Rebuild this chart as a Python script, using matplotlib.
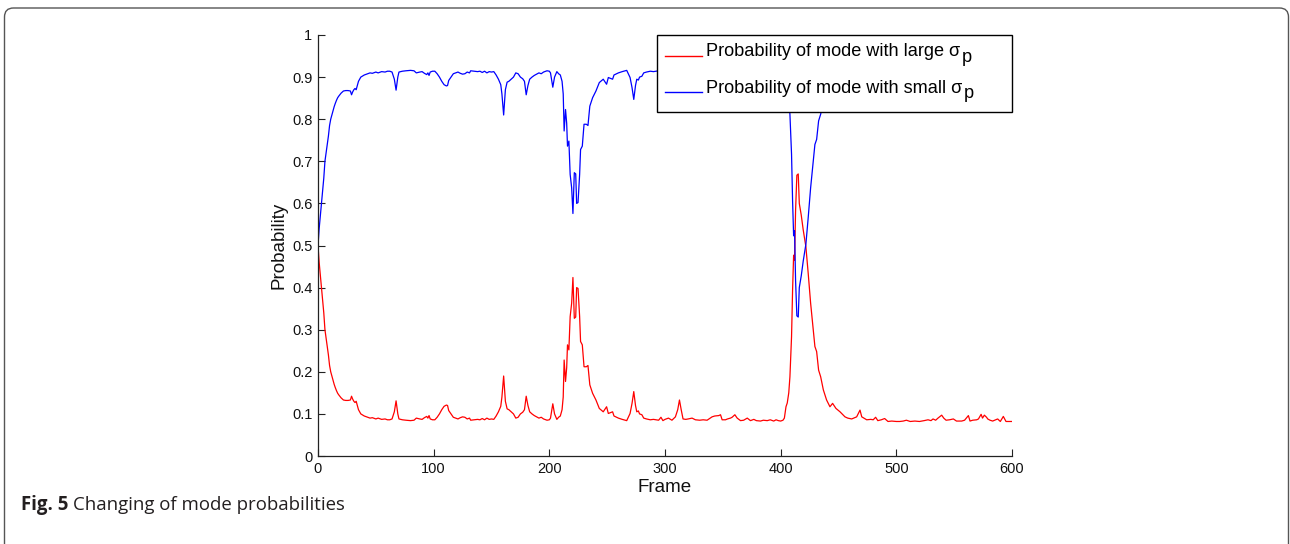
import matplotlib
matplotlib.use("Agg")
import numpy as np
import matplotlib.pyplot as plt
from matplotlib.patches import FancyBboxPatch, Rectangle
from matplotlib.transforms import IdentityTransform
from matplotlib.font_manager import FontProperties

# ---------------- data ----------------
frames = [
    0, 1, 2, 3, 4, 5, 6, 7, 8, 9,
    10, 11, 12, 13, 14, 15, 16, 17, 18, 20,
    22, 24, 26, 28, 29, 30, 31, 32, 33, 34,
    35, 37, 40, 43, 45,
    47, 50, 52, 55, 58, 60, 62, 64, 66, 67.5,
    69, 70, 73, 76, 80, 83, 85, 88, 90, 92,
    94, 95, 96, 97, 99, 101, 103, 105, 107, 109,
    111, 112, 113, 115, 117, 119, 121, 123, 125, 127,
    129, 131, 132, 135, 138, 140, 142, 144, 146, 148,
    150, 152, 154, 156, 158, 159, 160.5, 162, 163.5, 165,
    167, 169, 171, 173, 175, 177, 178.5, 180, 181.5, 183,
    185, 187, 189, 191, 193, 195, 198, 200, 201, 203,
    204.5, 206.5, 208, 209.5, 211, 212, 212.8, 214, 215, 215.7,
    216.9, 218, 219.3, 220.4, 221.6, 222.8, 223.6, 224.8, 226.2, 227,
    228.5, 230, 232, 233.4, 235, 237.4, 240.3, 243.2, 246.6, 249.5,
    251, 254.7, 255.9, 259.7, 263, 266.9, 269.8, 271.5, 273, 274.5,
    275.6, 277, 278, 280, 281.6, 284, 287.3, 290, 294.5, 296.5,
    298.2, 300, 303, 306, 309, 311, 312.5, 314, 315.6, 318,
    320, 323.4, 326.3, 330, 333, 336.4, 338, 340.7, 343, 346.5,
    348, 349.4, 352.3, 354, 356.6, 358, 360.4, 362.4, 365.3, 368,
    371.1, 373.9, 376.8, 379, 382.6, 385, 388.4, 391, 394, 396,
    398, 400, 402, 403.2, 404.6, 405.7, 407, 408, 409.4, 410.3,
    411.2, 412, 412.9, 414, 415.2, 416.1, 417.8, 419.5, 421.8, 423.8,
    425.9, 428.2, 429.6, 431.1, 432.8, 434.6, 436.9, 439.7, 442.6, 444.9,
    447.8, 451.3, 455.6, 458, 461.4, 465.7, 468.6, 470.1, 472, 474.4,
    478, 480, 482.1, 484, 487, 489.9, 492.8, 496, 500, 503,
    506, 508.7, 512, 516, 520, 524, 527.4, 530, 531.7, 534,
    536, 539.2, 541, 543, 546, 549.3, 552, 556.5, 559, 562.3,
    563.7, 566, 569.5, 571, 573.3, 574.5, 576.1, 578, 579, 581,
    583.3, 586, 587.6, 589.9, 592.5, 594.8, 597, 600,
]

prob_large = [
    .500, .460, .430, .400, .370, .340, .300, .280, .260, .240,
    .215, .200, .190, .180, .170, .162, .155, .149, .145, .138,
    .133, .132, .132, .133, .142, .135, .130, .127, .130, .120,
    .110, .100, .095, .092, .090,
    .091, .088, .090, .087, .088, .086, .086, .088, .105, .131,
    .100, .088, .086, .085, .084, .085, .090, .088, .087, .091,
    .094, .090, .096, .088, .086, .086, .092, .100, .110, .118,
    .121, .120, .108, .100, .092, .090, .088, .091, .093, .092,
    .088, .090, .085, .086, .087, .086, .089, .086, .090, .087,
    .088, .087, .095, .105, .118, .140, .190, .130, .112, .110,
    .105, .100, .090, .092, .100, .104, .110, .142, .120, .105,
    .100, .096, .093, .090, .092, .088, .085, .086, .090, .124,
    .100, .087, .092, .095, .110, .140, .228, .177, .210, .264,
    .252, .331, .363, .424, .327, .330, .400, .398, .331, .272,
    .264, .212, .212, .215, .169, .149, .133, .113, .105, .117,
    .101, .105, .095, .090, .087, .084, .101, .125, .153, .120,
    .105, .107, .100, .098, .090, .088, .086, .087, .085, .092,
    .084, .087, .090, .085, .093, .110, .133, .110, .088, .087,
    .088, .090, .086, .085, .086, .085, .088, .093, .095, .096,
    .098, .086, .086, .088, .090, .092, .098, .090, .084, .085,
    .090, .084, .087, .084, .083, .085, .084, .086, .083, .086,
    .084, .083, .085, .090, .117, .126, .150, .188, .283, .394,
    .477, .465, .584, .667, .670, .600, .572, .537, .497, .434,
    .363, .299, .260, .248, .204, .188, .157, .133, .117, .125,
    .113, .105, .093, .090, .088, .093, .109, .093, .090, .086,
    .087, .086, .092, .084, .086, .089, .082, .083, .082, .082,
    .083, .085, .082, .083, .082, .084, .086, .084, .088, .085,
    .090, .097, .090, .085, .086, .088, .083, .083, .085, .096,
    .083, .085, .086, .088, .099, .090, .097, .092, .088, .085,
    .083, .086, .088, .082, .094, .082, .082, .082,
]

prob_small = [
    .500, .540, .570, .600, .630, .660, .700, .720, .740, .760,
    .785, .800, .810, .820, .830, .838, .845, .851, .855, .862,
    .867, .868, .868, .867, .858, .865, .870, .873, .870, .880,
    .890, .900, .905, .908, .910,
    .909, .912, .910, .913, .912, .914, .914, .912, .895, .869,
    .900, .912, .914, .915, .916, .915, .910, .912, .913, .909,
    .906, .910, .904, .912, .914, .914, .908, .900, .890, .882,
    .879, .880, .892, .900, .908, .910, .912, .909, .907, .908,
    .912, .910, .915, .914, .913, .914, .911, .914, .910, .913,
    .912, .913, .905, .895, .882, .860, .810, .870, .888, .890,
    .895, .900, .910, .908, .900, .896, .890, .858, .880, .895,
    .900, .904, .907, .910, .908, .912, .915, .914, .910, .876,
    .900, .913, .908, .905, .890, .860, .772, .823, .790, .736,
    .748, .669, .637, .576, .673, .670, .600, .602, .669, .728,
    .736, .788, .788, .785, .831, .851, .867, .887, .895, .883,
    .899, .895, .905, .910, .913, .916, .899, .875, .847, .880,
    .895, .893, .900, .902, .910, .912, .914, .913, .915, .908,
    .916, .913, .910, .915, .907, .890, .867, .890, .912, .913,
    .912, .910, .914, .915, .914, .915, .912, .907, .905, .904,
    .902, .914, .914, .912, .910, .908, .902, .910, .916, .915,
    .910, .916, .913, .916, .917, .915, .916, .914, .917, .914,
    .916, .917, .915, .910, .883, .874, .850, .812, .717, .606,
    .523, .535, .416, .333, .330, .400, .428, .463, .503, .566,
    .637, .701, .740, .752, .796, .812, .843, .867, .883, .875,
    .887, .895, .907, .910, .912, .907, .891, .907, .910, .914,
    .913, .914, .908, .916, .914, .911, .918, .917, .918, .918,
    .917, .915, .918, .917, .918, .916, .914, .916, .912, .915,
    .910, .903, .910, .915, .914, .912, .917, .917, .915, .904,
    .917, .915, .914, .912, .901, .910, .903, .908, .912, .915,
    .917, .914, .912, .918, .906, .918, .918, .918,
]

x_ticks = [0, 100, 200, 300, 400, 500, 600]
y_ticks = [0, 0.1, 0.2, 0.3, 0.4, 0.5, 0.6, 0.7, 0.8, 0.9, 1]
y_tick_labels = ["0", "0.1", "0.2", "0.3", "0.4", "0.5", "0.6", "0.7", "0.8", "0.9", "1"]
legend_labels = ["Probability of mode with large σ",
                 "Probability of mode with small σ"]
legend_subscript = "p"

# ---------------- figure ----------------
plt.rcParams["font.family"] = ["Liberation Sans", "DejaVu Sans"]

W, H = 1290, 544
fig = plt.figure(figsize=(W / 100, H / 100), dpi=100)
fig.patch.set_facecolor("white")

# rounded frame around the figure (pixel coordinates, origin bottom-left)
frame = FancyBboxPatch((4.5, -30), 1284, 566, boxstyle="round,pad=0,rounding_size=9",
                       transform=IdentityTransform(), fill=False,
                       edgecolor="#555555", linewidth=1.0)
fig.patches.append(frame)

ax_l, ax_r, ax_t, ax_b = 318, 1012, 35, 456
ax = fig.add_axes([ax_l / W, 1 - ax_b / H, (ax_r - ax_l) / W, (ax_b - ax_t) / H])
ax.plot(frames, prob_large, color="#ff0000", linewidth=0.9, label=legend_labels[0], zorder=2)
ax.plot(frames, prob_small, color="#0000ff", linewidth=0.9, label=legend_labels[1], zorder=2)

ax.set_xlim(0, 600)
ax.set_ylim(0, 1)
ax.set_xticks(x_ticks)
ax.set_xticklabels([str(t) for t in x_ticks])
ax.set_yticks(y_ticks)
ax.set_yticklabels(y_tick_labels)
for s in ["top", "right"]:
    ax.spines[s].set_visible(False)
for s in ["left", "bottom"]:
    ax.spines[s].set_linewidth(0.9)
    ax.spines[s].set_color("#222222")
ax.tick_params(direction="in", length=5, width=0.8, labelsize=10.5, colors="#222222",
               labelcolor="#111111")
ax.tick_params(axis="y", pad=4)
ax.tick_params(axis="x", pad=4)

ax.set_xlabel("Frame", fontsize=13.5, labelpad=2.5, color="#111111")
ax.set_ylabel("Probability", fontsize=13.5, labelpad=3, color="#111111")


def px_to_axes(px, py):
    return ((px - ax_l) / (ax_r - ax_l), (ax_b - py) / (ax_b - ax_t))


# legend frame (drawn as a plain box, as in the reference)
lx0, ly0 = px_to_axes(657, 112)
lx1, ly1 = px_to_axes(1011.5, 35)
ax.add_patch(Rectangle((lx0, ly0), lx1 - lx0, ly1 - ly0, transform=ax.transAxes,
                       facecolor="white", edgecolor="black", linewidth=1.0,
                       zorder=4, clip_on=False))

leg_fs = 13.1
anchor = px_to_axes(665, 43.5)
leg = ax.legend(loc="upper left", bbox_to_anchor=anchor, fontsize=leg_fs,
                frameon=False, borderaxespad=0.0, borderpad=0.0,
                handlelength=2.05, handletextpad=0.22, labelspacing=1.07)
leg.set_zorder(5)
for line in leg.get_lines():
    line.set_linewidth(1.0)
    line.set_ydata(np.asarray(line.get_ydata(), dtype=float) - 4.2)

fig.canvas.draw()
renderer = fig.canvas.get_renderer()
fp = FontProperties(family=["Liberation Sans"], size=leg_fs)
_, _, desc = renderer.get_text_width_height_descent("lp", fp, ismath=False)
for t in leg.get_texts():
    bb = t.get_window_extent(renderer)
    base = bb.y0 + desc
    fig.text(bb.x1 + 1, base - 5, legend_subscript, transform=IdentityTransform(),
             fontsize=leg_fs, family=["Liberation Sans"], color="black",
             va="baseline", ha="left", zorder=6)

# caption
cap_fs = 13.4
t1 = fig.text(21 / W, 1 - 510 / H, "Fig. 5", fontsize=cap_fs, fontweight="bold",
              family="Open Sans", color="#231f20", va="baseline")
fig.canvas.draw()
bb = t1.get_window_extent()
fig.text((bb.x1 + 5) / W, 1 - 510 / H, "Changing of mode probabilities", fontsize=cap_fs,
         family="Open Sans", color="#231f20", va="baseline")

fig.savefig("out.png", dpi=100, facecolor="white")
